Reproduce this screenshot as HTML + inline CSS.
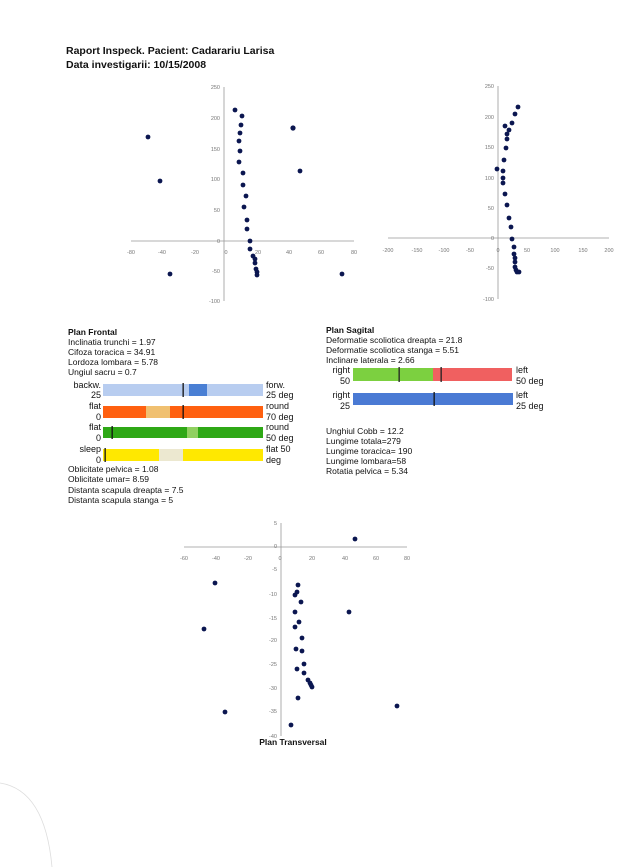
<!DOCTYPE html>
<html><head><meta charset="utf-8"><style>
html,body{margin:0;padding:0;background:#fff;}
svg{display:block;font-family:"Liberation Sans",Arial,sans-serif;}
.t{font-size:8.5px;fill:#111;}
.b{font-weight:bold;}
.tk{font-size:5.5px;fill:#777;}
.ax{stroke:#999;stroke-width:0.8;fill:none;}
.lb{font-size:9px;fill:#111;}
</style></head><body>
<svg width="630" height="867" viewBox="0 0 630 867" xmlns="http://www.w3.org/2000/svg">
<rect width="630" height="867" fill="#fff"/>
<text x="66" y="54" font-size="10.5" font-weight="bold" fill="#111">Raport Inspeck. Pacient: Cadarariu  Larisa</text>
<text x="66" y="68" font-size="10.5" font-weight="bold" fill="#111">Data investigarii: 10/15/2008</text>

<!-- Chart 1 -->
<g>
<line class="ax" x1="224" y1="87" x2="224" y2="301"/>
<line class="ax" x1="131" y1="241" x2="354" y2="241"/>
<g class="tk" text-anchor="end">
<text x="220" y="89">250</text><text x="220" y="120">200</text><text x="220" y="151">150</text><text x="220" y="181">100</text><text x="220" y="212">50</text><text x="220" y="243">0</text><text x="220" y="273">-50</text><text x="220" y="303">-100</text>
</g>
<g class="tk" text-anchor="middle">
<text x="131" y="254">-80</text><text x="162" y="254">-40</text><text x="195" y="254">-20</text><text x="226" y="254">0</text><text x="258" y="254">20</text><text x="289" y="254">40</text><text x="321" y="254">60</text><text x="354" y="254">80</text>
</g>
<g fill="#0b1650">
<circle cx="235" cy="110" r="2.4"/><circle cx="242" cy="116" r="2.4"/><circle cx="241" cy="125" r="2.4"/><circle cx="240" cy="133" r="2.4"/><circle cx="239" cy="141" r="2.4"/><circle cx="240" cy="151" r="2.4"/><circle cx="239" cy="162" r="2.4"/><circle cx="243" cy="173" r="2.4"/><circle cx="243" cy="185" r="2.4"/><circle cx="246" cy="196" r="2.4"/><circle cx="244" cy="207" r="2.4"/><circle cx="247" cy="220" r="2.4"/><circle cx="247" cy="229" r="2.4"/><circle cx="250" cy="241" r="2.4"/><circle cx="250" cy="249" r="2.4"/><circle cx="253" cy="256" r="2.4"/><circle cx="255" cy="259" r="2.4"/><circle cx="255" cy="263" r="2.4"/><circle cx="256" cy="269" r="2.4"/><circle cx="257" cy="272" r="2.4"/><circle cx="257" cy="275" r="2.4"/>
<circle cx="148" cy="137" r="2.4"/><circle cx="160" cy="181" r="2.4"/><circle cx="170" cy="274" r="2.4"/><circle cx="293" cy="128" r="2.6"/><circle cx="300" cy="171" r="2.4"/><circle cx="342" cy="274" r="2.4"/>
</g>
</g>

<!-- Chart 2 -->
<g>
<line class="ax" x1="498" y1="86" x2="498" y2="299"/>
<line class="ax" x1="388" y1="238" x2="609" y2="238"/>
<g class="tk" text-anchor="end">
<text x="494" y="88">250</text><text x="494" y="119">200</text><text x="494" y="149">150</text><text x="494" y="180">100</text><text x="494" y="210">50</text><text x="494" y="240">0</text><text x="494" y="270">-50</text><text x="494" y="301">-100</text>
</g>
<g class="tk" text-anchor="middle">
<text x="388" y="252">-200</text><text x="417" y="252">-150</text><text x="444" y="252">-100</text><text x="470" y="252">-50</text><text x="498" y="252">0</text><text x="527" y="252">50</text><text x="555" y="252">100</text><text x="583" y="252">150</text><text x="609" y="252">200</text>
</g>
<g fill="#0b1650">
<circle cx="518" cy="107" r="2.4"/><circle cx="515" cy="114" r="2.4"/><circle cx="512" cy="123" r="2.4"/><circle cx="505" cy="126" r="2.4"/><circle cx="509" cy="130" r="2.4"/><circle cx="507" cy="134" r="2.4"/><circle cx="507" cy="139" r="2.4"/><circle cx="506" cy="148" r="2.4"/><circle cx="504" cy="160" r="2.4"/><circle cx="497" cy="169" r="2.4"/><circle cx="503" cy="171" r="2.4"/><circle cx="503" cy="178" r="2.4"/><circle cx="503" cy="183" r="2.4"/><circle cx="505" cy="194" r="2.4"/><circle cx="507" cy="205" r="2.4"/><circle cx="509" cy="218" r="2.4"/><circle cx="511" cy="227" r="2.4"/><circle cx="512" cy="239" r="2.4"/><circle cx="514" cy="247" r="2.4"/><circle cx="514" cy="254" r="2.4"/><circle cx="515" cy="258" r="2.4"/><circle cx="515" cy="262" r="2.4"/><circle cx="515" cy="267" r="2.4"/><circle cx="516" cy="270" r="2.4"/><circle cx="517" cy="272" r="2.4"/><circle cx="519" cy="272" r="2.4"/>
</g>
</g>

<!-- Plan Frontal -->
<g class="t">
<text x="68" y="335" class="b">Plan Frontal</text>
<text x="68" y="345">Inclinatia trunchi = 1.97</text>
<text x="68" y="355">Cifoza toracica = 34.91</text>
<text x="68" y="365">Lordoza lombara =  5.78</text>
<text x="68" y="375">Ungiul sacru = 0.7</text>
</g>
<g class="lb" text-anchor="end">
<text x="101" y="388">backw.</text><text x="101" y="398">25</text>
<text x="101" y="409">flat</text><text x="101" y="420">0</text>
<text x="101" y="430">flat</text><text x="101" y="441">0</text>
<text x="101" y="452">sleep</text><text x="101" y="463">0</text>
</g>
<g class="lb">
<text x="266" y="388">forw.</text><text x="266" y="398">25 deg</text>
<text x="266" y="409">round</text><text x="266" y="420">70 deg</text>
<text x="266" y="430">round</text><text x="266" y="441">50 deg</text>
<text x="266" y="452">flat  50</text><text x="266" y="463">deg</text>
</g>
<rect x="103" y="384" width="160" height="12" fill="#b8cdf0"/>
<rect x="189" y="384" width="18" height="12" fill="#4a7fd4"/>
<rect x="182.5" y="383" width="1.3" height="14" fill="#111"/>
<rect x="103" y="406" width="160" height="12" fill="#ff6010"/>
<rect x="146" y="406" width="24" height="12" fill="#f0c070"/>
<rect x="182.5" y="405" width="1.3" height="14" fill="#111"/>
<rect x="103" y="427" width="160" height="11" fill="#2ea816"/>
<rect x="187" y="427" width="11" height="11" fill="#90d060"/>
<rect x="111.5" y="426" width="1.3" height="13" fill="#111"/>
<rect x="103" y="449" width="160" height="12" fill="#ffe800"/>
<rect x="159" y="449" width="24" height="12" fill="#ece8d0"/>
<rect x="104.5" y="448" width="1.3" height="14" fill="#111"/>
<g class="t">
<text x="68" y="472">Oblicitate pelvica = 1.08</text>
<text x="68" y="482">Oblicitate umar= 8.59</text>
<text x="68" y="493">Distanta scapula dreapta = 7.5</text>
<text x="68" y="503">Distanta scapula stanga = 5</text>
</g>

<!-- Plan Sagital -->
<g class="t">
<text x="326" y="333" class="b">Plan Sagital</text>
<text x="326" y="343">Deformatie scoliotica dreapta = 21.8</text>
<text x="326" y="353">Deformatie scoliotica stanga = 5.51</text>
<text x="326" y="363">Inclinare laterala = 2.66</text>
</g>
<g class="lb" text-anchor="end">
<text x="350" y="373">right</text><text x="350" y="384">50</text>
<text x="350" y="398">right</text><text x="350" y="409">25</text>
</g>
<g class="lb">
<text x="516" y="373">left</text><text x="516" y="384">50 deg</text>
<text x="516" y="398">left</text><text x="516" y="409">25 deg</text>
</g>
<rect x="353" y="368" width="80" height="13" fill="#7cd040"/>
<rect x="433" y="368" width="79" height="13" fill="#f06060"/>
<rect x="398.5" y="367" width="1.3" height="15" fill="#222"/>
<rect x="440.5" y="367" width="1.3" height="15" fill="#222"/>
<rect x="353" y="393" width="160" height="12" fill="#4a7ad4"/>
<rect x="433.5" y="392" width="1.3" height="14" fill="#111"/>
<g class="t">
<text x="326" y="434">Unghiul Cobb = 12.2</text>
<text x="326" y="444">Lungime totala=279</text>
<text x="326" y="454">Lungime toracica= 190</text>
<text x="326" y="464">Lungime lombara=58</text>
<text x="326" y="474">Rotatia pelvica = 5.34</text>
</g>

<!-- Chart 3 -->
<g>
<line class="ax" x1="281" y1="523" x2="281" y2="736"/>
<line class="ax" x1="184" y1="547" x2="407" y2="547"/>
<g class="tk" text-anchor="end">
<text x="277" y="525">5</text><text x="277" y="548">0</text><text x="277" y="571">-5</text><text x="277" y="596">-10</text><text x="277" y="620">-15</text><text x="277" y="642">-20</text><text x="277" y="666">-25</text><text x="277" y="690">-30</text><text x="277" y="713">-35</text><text x="277" y="738">-40</text>
</g>
<g class="tk" text-anchor="middle">
<text x="184" y="560">-60</text><text x="216" y="560">-40</text><text x="248" y="560">-20</text><text x="280" y="560">0</text><text x="312" y="560">20</text><text x="345" y="560">40</text><text x="376" y="560">60</text><text x="407" y="560">80</text>
</g>
<g fill="#0b1650">
<circle cx="355" cy="539" r="2.4"/><circle cx="215" cy="583" r="2.4"/><circle cx="204" cy="629" r="2.4"/><circle cx="225" cy="712" r="2.4"/><circle cx="298" cy="585" r="2.4"/><circle cx="297" cy="592" r="2.4"/><circle cx="295" cy="595" r="2.4"/><circle cx="301" cy="602" r="2.4"/><circle cx="295" cy="612" r="2.4"/><circle cx="349" cy="612" r="2.4"/><circle cx="299" cy="622" r="2.4"/><circle cx="295" cy="627" r="2.4"/><circle cx="302" cy="638" r="2.4"/><circle cx="296" cy="649" r="2.4"/><circle cx="302" cy="651" r="2.4"/><circle cx="304" cy="664" r="2.4"/><circle cx="297" cy="669" r="2.4"/><circle cx="304" cy="673" r="2.4"/><circle cx="308" cy="680" r="2.4"/><circle cx="310" cy="683" r="2.4"/><circle cx="311" cy="685" r="2.4"/><circle cx="312" cy="687" r="2.4"/><circle cx="298" cy="698" r="2.4"/><circle cx="397" cy="706" r="2.4"/><circle cx="291" cy="725" r="2.4"/>
</g>
<text x="293" y="745" text-anchor="middle" font-size="8.5" font-weight="bold" fill="#111">Plan Transversal</text>
</g>

<path d="M0 783 Q45 790 52 867" stroke="#ddd" stroke-width="0.8" fill="none"/>
</svg>
</body></html>
